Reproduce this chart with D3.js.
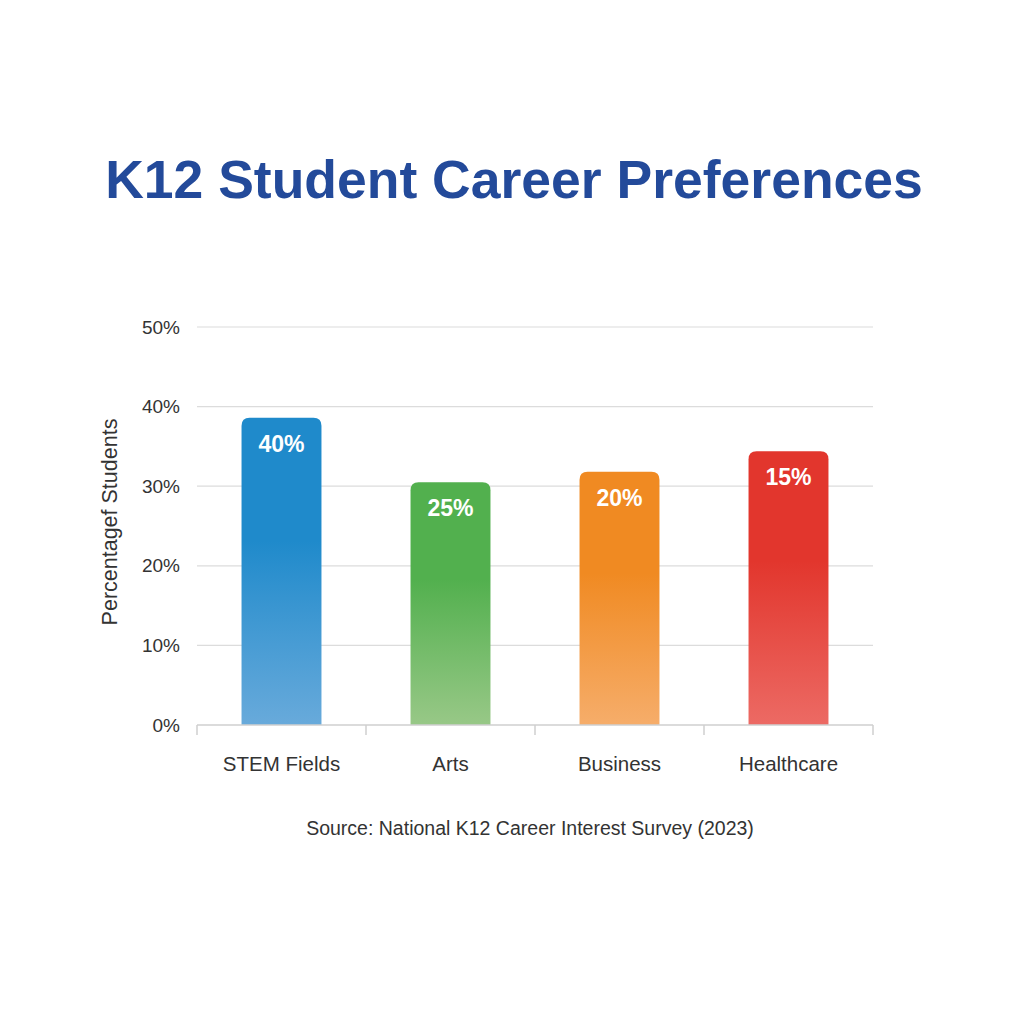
<!DOCTYPE html>
<html>
<head>
<meta charset="utf-8">
<script src="https://cdn.jsdelivr.net/npm/d3@7"></script>
<style>
  body { margin: 0; background: #fff; }
  text { font-family: "Liberation Sans", Arial, sans-serif; }
</style>
</head>
<body>
<div id="main"></div>
<script>
// chart data
const categories = ["STEM Fields", "Arts", "Business", "Healthcare"];
const barValues = [38.6, 30.5, 31.8, 34.4];      // bar heights, in %
const barLabels = ["40%", "25%", "20%", "15%"]; // text printed on the bars
const yTicks = [0, 10, 20, 30, 40, 50];
const topColors = ["#1f8acb", "#52b04e", "#f08a22", "#e2362d"];
const bottomColors = ["#68aadb", "#98c887", "#f6ad6a", "#ec6a64"];

const c = {width: 1024, height: 1024, left: 197, right: 873, top: 327, bottom: 725};

const svg = d3.select("#main")
  .append("svg")
  .attr("width", c.width)
  .attr("height", c.height);

const defs = svg.append("defs");
categories.forEach((d, i) => {
  const g = defs.append("linearGradient")
    .attr("id", "grad" + i)
    .attr("x1", 0).attr("y1", 0).attr("x2", 0).attr("y2", 1);
  g.append("stop").attr("offset", "0%").attr("stop-color", topColors[i]);
  g.append("stop").attr("offset", "40%").attr("stop-color", topColors[i]);
  g.append("stop").attr("offset", "100%").attr("stop-color", bottomColors[i]);
});

const xScale = d3.scaleBand()
  .domain(categories)
  .range([c.left, c.right])
  .paddingInner(0.527)
  .paddingOuter(0.2635);

const yScale = d3.scaleLinear()
  .domain([0, 50])
  .range([c.bottom, c.top]);

// title
svg.append("text")
  .attr("x", 514)
  .attr("y", 198)
  .attr("text-anchor", "middle")
  .style("font-size", "53.5px")
  .style("font-weight", "bold")
  .style("fill", "#234a9a")
  .text("K12 Student Career Preferences");

// grid lines
svg.append("g")
  .selectAll("line")
  .data(yTicks.filter(d => d > 0))
  .join("line")
  .attr("x1", c.left)
  .attr("x2", c.right)
  .attr("y1", d => yScale(d))
  .attr("y2", d => yScale(d))
  .style("stroke", "#dcdcdc")
  .style("stroke-width", 1.2);

// y axis labels
const yAxis = d3.axisLeft(yScale)
  .tickValues(yTicks)
  .tickFormat(d => d + "%")
  .tickSize(0)
  .tickPadding(17);

const yG = svg.append("g")
  .attr("transform", `translate(${c.left},0)`)
  .call(yAxis);
yG.select(".domain").remove();
yG.selectAll("text")
  .style("font-size", "19px")
  .style("fill", "#333")
  .style("font-family", "'Liberation Sans', Arial, sans-serif");

// bars
const bw = xScale.bandwidth();
const r = 8;
svg.append("g")
  .selectAll("path")
  .data(categories)
  .join("path")
  .attr("d", (d, i) => {
    const x = xScale(d), y = yScale(barValues[i]), y0 = yScale(0);
    return `M${x},${y0} V${y + r} Q${x},${y} ${x + r},${y} H${x + bw - r} Q${x + bw},${y} ${x + bw},${y + r} V${y0} Z`;
  })
  .style("fill", (d, i) => `url(#grad${i})`);

// labels on bars
svg.append("g")
  .selectAll("text")
  .data(categories)
  .join("text")
  .attr("x", d => xScale(d) + bw / 2)
  .attr("y", (d, i) => yScale(barValues[i]) + 34)
  .attr("text-anchor", "middle")
  .style("font-size", "23px")
  .style("font-weight", "bold")
  .style("fill", "#fff")
  .text((d, i) => barLabels[i]);

// x axis
const xAxis = d3.axisBottom(xScale).tickSize(0).tickPadding(31);
const xG = svg.append("g")
  .attr("transform", `translate(0,${c.bottom})`)
  .call(xAxis);
xG.select(".domain")
  .attr("d", `M${c.left},0H${c.right}`)
  .style("stroke", "#cfcfcf")
  .style("stroke-width", 1.5);
xG.selectAll("text")
  .style("font-size", "20.5px")
  .style("fill", "#333")
  .style("font-family", "'Liberation Sans', Arial, sans-serif");

// separators between categories
const sepX = categories.map(d => xScale(d) - (xScale.step() - bw) / 2).concat([c.right]);
svg.append("g")
  .selectAll("line")
  .data(sepX)
  .join("line")
  .attr("x1", d => d).attr("x2", d => d)
  .attr("y1", c.bottom).attr("y2", c.bottom + 10)
  .style("stroke", "#cfcfcf")
  .style("stroke-width", 1.5);

// y axis title
svg.append("text")
  .attr("transform", "translate(117,522) rotate(-90)")
  .attr("text-anchor", "middle")
  .style("font-size", "21.5px")
  .style("fill", "#333")
  .text("Percentagef Students");

// source
svg.append("text")
  .attr("x", 530)
  .attr("y", 835)
  .attr("text-anchor", "middle")
  .style("font-size", "19.5px")
  .style("fill", "#333")
  .text("Source: National K12 Career Interest Survey (2023)");
</script>
</body>
</html>
